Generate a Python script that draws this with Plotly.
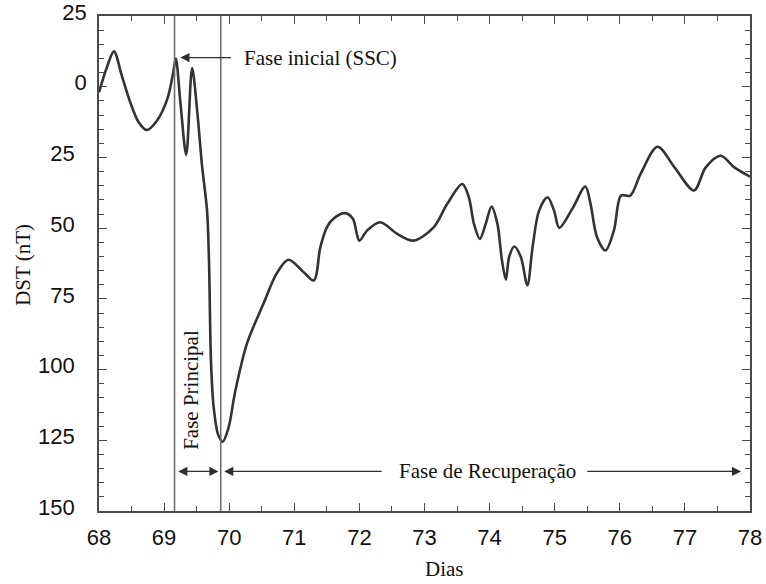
import plotly.graph_objects as go

# Dst index during the storm (day of year, nT)
days = [68.00, 68.12, 68.23, 68.35, 68.48, 68.61, 68.73, 68.89, 69.05, 69.14, 69.18,
        69.25, 69.34, 69.43, 69.51, 69.58, 69.66, 69.69, 69.72, 69.76, 69.83, 69.90,
        69.99, 70.09, 70.27, 70.53, 70.73, 70.91, 71.14, 71.30, 71.40, 71.50, 71.60,
        71.78, 71.90, 71.96, 72.00, 72.12, 72.32, 72.58, 72.83, 73.14, 73.35, 73.58,
        73.68, 73.76, 73.85, 73.94, 74.03, 74.12, 74.19, 74.25, 74.30, 74.38, 74.48,
        74.58, 74.66, 74.76, 74.89, 74.99, 75.07, 75.27, 75.47, 75.55, 75.65, 75.78,
        75.91, 76.02, 76.16, 76.32, 76.58, 76.84, 77.14, 77.32, 77.55, 77.76, 78.00]
dst = [-2.0, 6.8, 12.5, 3.9, -5.5, -12.6, -15.3, -12.0, -4.3, 5.0, 10.0,
       -5.5, -24.1, 6.6, -9.0, -27.3, -44.0, -62.0, -97.0, -113.0, -123.0, -125.5,
       -120.5, -108.0, -91.0, -76.5, -66.0, -61.2, -65.5, -68.5, -56.7, -49.7, -46.7,
       -44.7, -46.7, -52.0, -54.4, -50.8, -47.9, -52.0, -54.4, -49.7, -41.4, -34.4,
       -39.0, -48.5, -53.8, -48.5, -42.4, -48.5, -61.4, -68.2, -60.2, -56.5, -60.2,
       -70.2, -56.7, -43.8, -39.1, -43.8, -49.9, -43.2, -35.3, -41.4, -53.2, -57.9,
       -50.8, -38.5, -38.5, -30.8, -21.2, -28.5, -36.7, -28.5, -24.4, -28.5, -31.8]

# phase boundaries (days)
ssc_day = 69.16
min_day = 69.87

y_tickvals = [25, 0, -25, -50, -75, -100, -125, -150]
y_ticktext = ["25", "0", "25\u00a0\u00a0", "50\u00a0\u00a0", "75\u00a0\u00a0",
              "100\u00a0\u00a0", "125\u00a0\u00a0", "150\u00a0\u00a0"]
x_tickvals = [68, 69, 70, 71, 72, 73, 74, 75, 76, 77, 78]

serif = "Liberation Serif, Times New Roman, serif"
sans = "Liberation Sans, Arial, sans-serif"
frame = "#4a4a4a"
ink = "#2e2e2e"

fig = go.Figure()
fig.add_trace(go.Scatter(
    x=days, y=dst, mode="lines",
    line=dict(color="#333333", width=2.6, shape="spline", smoothing=0.9),
    showlegend=False, hoverinfo="skip"))

for d in (ssc_day, min_day):
    fig.add_shape(type="line", x0=d, x1=d, y0=0, y1=1, xref="x", yref="paper",
                  line=dict(color="#6e6e6e", width=1.6))

arrow = dict(showarrow=True, text="", xref="x", yref="y", axref="x", ayref="y",
             arrowhead=2, arrowsize=1.3, arrowwidth=1.4, arrowcolor=ink,
             standoff=0, startstandoff=0)

fig.add_annotation(x=69.25, y=10.3, ax=70.05, ay=10.3, **arrow)
fig.add_annotation(x=70.20, y=10.3, text="Fase inicial (SSC)", showarrow=False,
                   xanchor="left", yanchor="middle",
                   font=dict(family=serif, size=21, color="#111"))

fig.add_annotation(x=69.835, y=-136, ax=69.195, ay=-136, arrowside="end+start", **arrow)
fig.add_annotation(x=69.923, y=-136, ax=72.365, ay=-136, **arrow)
fig.add_annotation(x=77.862, y=-136, ax=75.477, ay=-136, **arrow)
fig.add_annotation(x=73.96, y=-136, text="Fase de Recuperação", showarrow=False,
                   xanchor="center", yanchor="middle",
                   font=dict(family=serif, size=21, color="#111"))

fig.add_annotation(x=69.42, y=-107, text="Fase Principal", showarrow=False,
                   textangle=-90, xanchor="center", yanchor="middle",
                   font=dict(family=serif, size=21, color="#111"))

fig.add_annotation(x=-0.117, y=0.497, xref="paper", yref="paper", text="DST (nT)",
                   showarrow=False, textangle=-90, xanchor="center", yanchor="middle",
                   font=dict(family=serif, size=21, color="#111"))
fig.add_annotation(x=0.530, y=-0.118, xref="paper", yref="paper", text="Dias",
                   showarrow=False, xanchor="center", yanchor="middle",
                   font=dict(family=serif, size=21, color="#111"))

axis_common = dict(showgrid=False, zeroline=False, showline=True, linecolor=frame,
                   linewidth=1.5, mirror="ticks", ticks="inside", tickcolor=frame,
                   tickwidth=1.3, automargin=False, ticklabeloverflow="allow",
                   tickfont=dict(family=sans, size=22, color="#111"))

fig.update_xaxes(range=[68, 78], tickvals=x_tickvals, ticklen=8, ticklabelstandoff=6,
                 minor=dict(dtick=0.5, ticks="inside", ticklen=5, tickcolor=frame,
                            tickwidth=1.3),
                 **axis_common)
fig.update_yaxes(range=[-150, 25], tickvals=y_tickvals, ticktext=y_ticktext, ticklen=8,
                 ticklabelstandoff=6, ticklabelshift=-4,
                 minor=dict(dtick=5, tick0=0, ticks="inside", ticklen=5, tickcolor=frame,
                            tickwidth=1.3),
                 **axis_common)

fig.update_layout(width=766, height=584, margin=dict(l=99, r=16, t=16, b=73),
                  plot_bgcolor="white", paper_bgcolor="white")

fig.write_html("out.html")
